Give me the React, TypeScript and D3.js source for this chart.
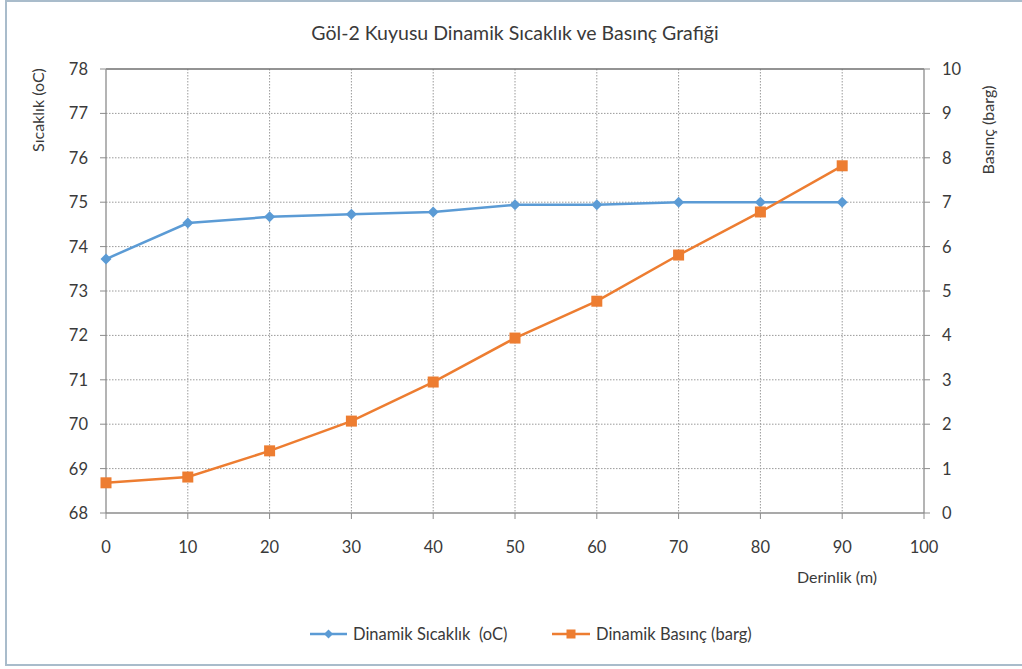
import React from "react";
import * as d3 from "d3";

const depths = [0, 10, 20, 30, 40, 50, 60, 70, 80, 90];
const temperature = [73.72, 74.53, 74.67, 74.73, 74.78, 74.94, 74.94, 75.0, 75.0, 75.0];
const pressure = [0.68, 0.81, 1.4, 2.07, 2.95, 3.94, 4.77, 5.81, 6.78, 7.82];
const xTicks = [0, 10, 20, 30, 40, 50, 60, 70, 80, 90, 100];
const leftTicks = [68, 69, 70, 71, 72, 73, 74, 75, 76, 77, 78];
const rightTicks = [0, 1, 2, 3, 4, 5, 6, 7, 8, 9, 10];

const title = "Göl-2 Kuyusu Dinamik Sıcaklık ve Basınç Grafiği";
const leftTitle = "Sıcaklık (oC)";
const rightTitle = "Basınç (barg)";
const xTitle = "Derinlik (m)";
const legendLabels = ["Dinamik Sıcaklık  (oC)", "Dinamik Basınç (barg)"];

const BLUE = "#5b9bd5";
const ORANGE = "#ed7d31";
const FONT = "Lato, 'Open Sans', sans-serif";
const TXT = "#3a3a3a";

export default function App() {
  const W = 1022, H = 669;
  const x = d3.scaleLinear().domain([0, 100]).range([106, 924]);
  const yL = d3.scaleLinear().domain([68, 78]).range([513, 69]);
  const yR = d3.scaleLinear().domain([0, 10]).range([513, 69]);

  const lineT = d3.line<number>().x((_, i) => x(depths[i])).y((d) => yL(d));
  const lineP = d3.line<number>().x((_, i) => x(depths[i])).y((d) => yR(d));

  const diamond = (cx: number, cy: number, r = 5.5) =>
    `M${cx},${cy - r}L${cx + r},${cy}L${cx},${cy + r}L${cx - r},${cy}Z`;

  return (
    <svg width={W} height={H} style={{ position: "absolute", left: 0, top: 0, fontFamily: FONT }}>
      <rect x={0} y={0} width={W} height={H} fill="#ffffff" />
      <rect x={6} y={1} width={W + 10} height={664} fill="#ffffff" stroke="#a9bccb" strokeWidth={2} />
      <text x={515} y={40} textAnchor="middle" fontSize={19.5} fill={TXT}>{title}</text>

      {/* gridlines */}
      {leftTicks.slice(1, -1).map((t) => (
        <line key={"h" + t} x1={x(0)} x2={x(100)} y1={yL(t)} y2={yL(t)} stroke="#9a9a9a" strokeWidth={1} strokeDasharray="1.5,1.5" />
      ))}
      {xTicks.slice(1, -1).map((t) => (
        <line key={"v" + t} x1={x(t)} x2={x(t)} y1={yL(78)} y2={yL(68)} stroke="#9a9a9a" strokeWidth={1} strokeDasharray="1.5,1.5" />
      ))}
      {/* plot border top */}
      <line x1={x(0)} x2={x(100)} y1={yL(78)} y2={yL(78)} stroke="#6f6f6f" strokeWidth={1.3} />
      {/* axes */}
      <line x1={x(0)} x2={x(0)} y1={yL(78)} y2={yL(68)} stroke="#8c8c8c" strokeWidth={1.3} />
      <line x1={x(100)} x2={x(100)} y1={yL(78)} y2={yL(68)} stroke="#8c8c8c" strokeWidth={1.3} />
      <line x1={x(0)} x2={x(100)} y1={yL(68)} y2={yL(68)} stroke="#8c8c8c" strokeWidth={1.3} />

      {leftTicks.map((t) => (
        <g key={"l" + t}>
          <line x1={x(0) - 6} x2={x(0)} y1={yL(t)} y2={yL(t)} stroke="#8c8c8c" />
          <text x={88} y={yL(t) + 6} textAnchor="end" fontSize={16.5} fill={TXT}>{t}</text>
        </g>
      ))}
      {rightTicks.map((t) => (
        <g key={"r" + t}>
          <line x1={x(100)} x2={x(100) + 6} y1={yR(t)} y2={yR(t)} stroke="#8c8c8c" />
          <text x={942} y={yR(t) + 6} textAnchor="start" fontSize={16.5} fill={TXT}>{t}</text>
        </g>
      ))}
      {xTicks.map((t) => (
        <g key={"x" + t}>
          <line x1={x(t)} x2={x(t)} y1={yL(68)} y2={yL(68) + 6} stroke="#8c8c8c" />
          <text x={x(t)} y={553} textAnchor="middle" fontSize={16.5} fill={TXT}>{t}</text>
        </g>
      ))}

      <text transform="translate(44,110) rotate(-90)" textAnchor="middle" fontSize={16} fill={TXT}>{leftTitle}</text>
      <text transform="translate(994,130) rotate(-90)" textAnchor="middle" fontSize={16} fill={TXT}>{rightTitle}</text>
      <text x={837} y={583} textAnchor="middle" fontSize={16} fill={TXT}>{xTitle}</text>

      {/* series */}
      <path d={lineT(temperature) || ""} fill="none" stroke={BLUE} strokeWidth={2.5} />
      {temperature.map((v, i) => (
        <path key={"dt" + i} d={diamond(x(depths[i]), yL(v))} fill={BLUE} />
      ))}
      <path d={lineP(pressure) || ""} fill="none" stroke={ORANGE} strokeWidth={2.5} />
      {pressure.map((v, i) => (
        <rect key={"dp" + i} x={x(depths[i]) - 5.5} y={yR(v) - 5.5} width={11} height={11} fill={ORANGE} />
      ))}

      {/* legend */}
      <line x1={310} x2={347} y1={634} y2={634} stroke={BLUE} strokeWidth={2.5} />
      <path d={diamond(328.5, 634, 4.5)} fill={BLUE} />
      <text x={353} y={640} fontSize={16.5} fill={TXT} style={{ whiteSpace: "pre" }}>{legendLabels[0]}</text>
      <line x1={552} x2={590} y1={634} y2={634} stroke={ORANGE} strokeWidth={2.5} />
      <rect x={566.5} y={629.5} width={9} height={9} fill={ORANGE} />
      <text x={596} y={640} fontSize={16.5} fill={TXT}>{legendLabels[1]}</text>
    </svg>
  );
}
